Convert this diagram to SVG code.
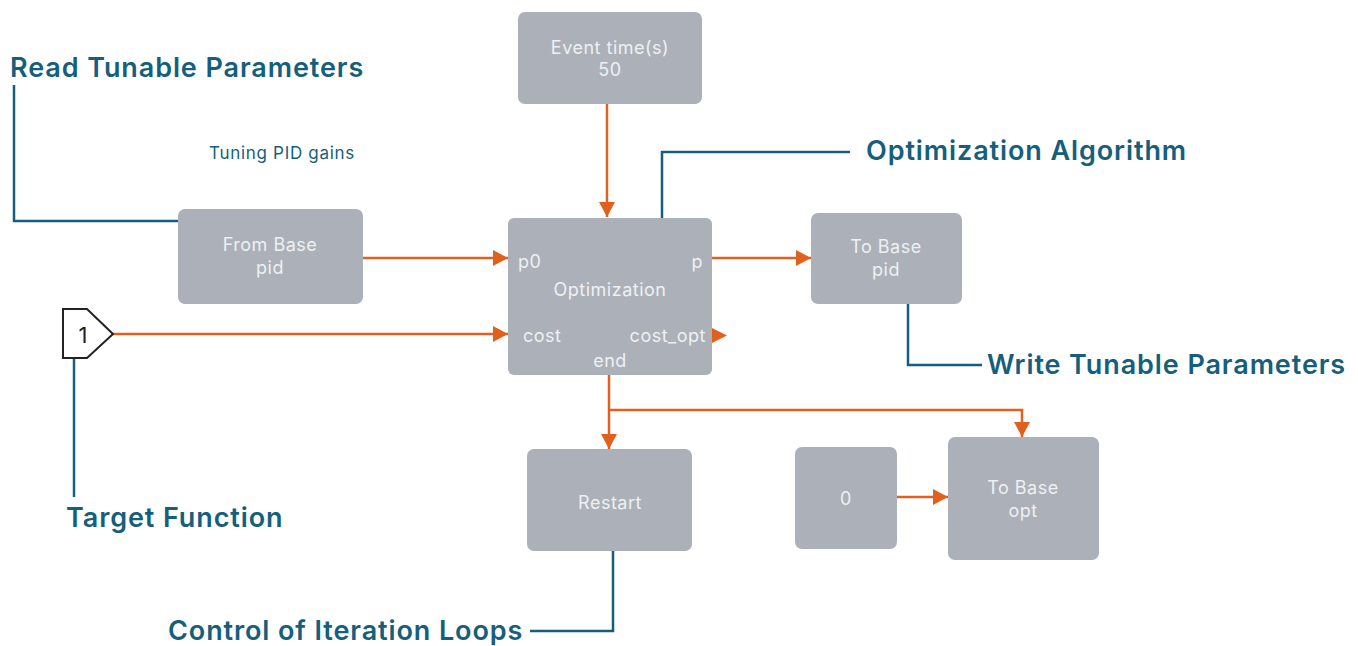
<svg xmlns="http://www.w3.org/2000/svg" width="1358" height="646" viewBox="0 0 1358 646">
<style>
.blk{fill:#abb0b9;}
.bt{font-family:Inter,"Liberation Sans",sans-serif;font-size:18px;letter-spacing:0.5px;fill:#eef0f3;text-anchor:middle;}
.pt{font-family:Inter,"Liberation Sans",sans-serif;font-size:18px;letter-spacing:0.5px;fill:#eef0f3;}
.lbl{font-family:Inter,"Liberation Sans",sans-serif;font-size:27px;font-weight:600;letter-spacing:0.9px;fill:#165f7c;}
.note{font-family:Inter,"Liberation Sans",sans-serif;font-size:17px;letter-spacing:0.7px;fill:#165f7c;}
.wire{fill:none;stroke:#e2601f;stroke-width:2.5;}
.call{fill:none;stroke:#165f7c;stroke-width:2.5;}
</style>
<defs>
<marker id="ah" markerUnits="userSpaceOnUse" markerWidth="16" markerHeight="18" refX="15" refY="9" orient="auto">
<path d="M0,1 L15,9 L0,17 Z" fill="#e2601f"/>
</marker>
</defs>
<rect width="1358" height="646" fill="#ffffff"/>

<g id="connectors">
<line class="wire" x1="607" y1="104" x2="607" y2="217" marker-end="url(#ah)"/>
<line class="wire" x1="363" y1="258" x2="508" y2="258" marker-end="url(#ah)"/>
<line class="wire" x1="113" y1="334" x2="508" y2="334" marker-end="url(#ah)"/>
<line class="wire" x1="712" y1="258" x2="811" y2="258" marker-end="url(#ah)"/>
<line class="wire" x1="609" y1="375" x2="609" y2="449" marker-end="url(#ah)"/>
<polyline class="wire" points="609,410 1022,410 1022,437" marker-end="url(#ah)"/>
<line class="wire" x1="897" y1="497" x2="948" y2="497" marker-end="url(#ah)"/>
</g>

<g id="callouts">
<polyline class="call" points="14,85 14,221 194,221"/>
<polyline class="call" points="662,235 662,152 850,152"/>
<polyline class="call" points="74,358 74,497"/>
<polyline class="call" points="908,290 908,365 982,365"/>
<polyline class="call" points="613,535 613,631 530,631"/>
</g>

<g id="event-time">
<rect class="blk" x="518" y="12" width="184" height="92" rx="7"/>
<text class="bt" x="610" y="54">Event time(s)</text>
<text class="bt" x="610" y="76">50</text>
</g>

<g id="from-base">
<rect class="blk" x="178" y="209" width="185" height="95" rx="7"/>
<text class="bt" x="270" y="251">From Base</text>
<text class="bt" x="270" y="274">pid</text>
</g>

<g id="optimization">
<rect class="blk" x="508" y="218" width="204" height="157" rx="6"/>
<text class="pt" x="518" y="268">p0</text>
<text class="pt" x="703" y="268" text-anchor="end">p</text>
<text class="bt" x="610" y="296">Optimization</text>
<text class="pt" x="523" y="342">cost</text>
<text class="pt" x="706" y="342" text-anchor="end">cost_opt</text>
<text class="bt" x="610" y="367">end</text>
<path d="M712,328 L727,335.5 L712,343 Z" fill="#e2601f"/>
</g>

<g id="to-base-pid">
<rect class="blk" x="811" y="213" width="151" height="91" rx="7"/>
<text class="bt" x="886" y="253">To Base</text>
<text class="bt" x="886" y="276">pid</text>
</g>

<g id="inport">
<polygon points="63,309 87,309 113,334 87,358 63,358" fill="#ffffff" stroke="#222222" stroke-width="2"/>
<text x="83" y="343" font-family="Inter,'Liberation Sans',sans-serif" font-size="22" fill="#222222" text-anchor="middle">1</text>
</g>

<g id="restart">
<rect class="blk" x="527" y="449" width="165" height="102" rx="7"/>
<text class="bt" x="610" y="509">Restart</text>
</g>

<g id="zero">
<rect class="blk" x="795" y="447" width="102" height="102" rx="7"/>
<text class="bt" x="846" y="505">0</text>
</g>

<g id="to-base-opt">
<rect class="blk" x="948" y="437" width="151" height="123" rx="7"/>
<text class="bt" x="1023" y="494">To Base</text>
<text class="bt" x="1023" y="517">opt</text>
</g>

<g id="labels">
<text class="lbl" x="10" y="77">Read Tunable Parameters</text>
<text class="note" x="209" y="159">Tuning PID gains</text>
<text class="lbl" x="866" y="160">Optimization Algorithm</text>
<text class="lbl" x="987" y="374">Write Tunable Parameters</text>
<text class="lbl" x="66" y="527">Target Function</text>
<text class="lbl" x="168" y="640">Control of Iteration Loops</text>
</g>
</svg>
